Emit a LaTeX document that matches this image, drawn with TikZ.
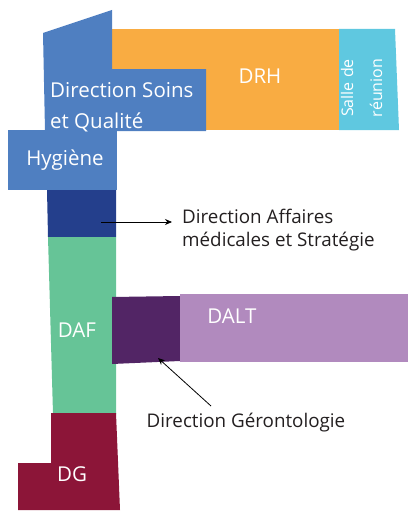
\documentclass[tikz,border=0pt]{standalone}
\usepackage{fontspec}
\setmainfont{Open Sans}
\usepackage{xcolor}
\usetikzlibrary{arrows.meta}

\definecolor{soinsblue}{HTML}{4F7FC1}
\definecolor{drhorange}{HTML}{F9AC42}
\definecolor{salleblue}{HTML}{5FC8E0}
\definecolor{affblue}{HTML}{243F8C}
\definecolor{dafgreen}{HTML}{66C497}
\definecolor{gerpurple}{HTML}{522565}
\definecolor{daltpurple}{HTML}{B18ABE}
\definecolor{dgred}{HTML}{8C1538}
\definecolor{labelgrey}{HTML}{231F20}

\tikzset{
    roomlabel/.style={text=white, font=\fontsize{20.5}{24}\selectfont, inner sep=0pt},
    smallroom/.style={roomlabel, font=\fontsize{16}{19}\selectfont, rotate=90},
    sidelabel/.style={text=labelgrey, font=\fontsize{18.8}{23}\selectfont, inner sep=0pt, align=left},
    pointer/.style={-{Stealth[length=7pt,width=6pt]}, thick, black}
}

\begin{document}
\begin{tikzpicture}[x=1pt, y=-1pt]
    \useasboundingbox (0,0) rectangle (408,511);
    % rooms
    \fill[drhorange] (112,29) rectangle (339,130);
    \fill[salleblue] (339,29) -- (395,29) -- (399,130) -- (339,130) -- cycle;
    \fill[soinsblue] (43,33) -- (112,10) -- (112,69) -- (206,69) -- (206,131) -- (45,131) -- cycle;
    \fill[soinsblue] (8,130) rectangle (117,190);
    \fill[affblue] (47,190) -- (116,190) -- (116,237) -- (48,237) -- cycle;
    \fill[dafgreen] (48,237) -- (116,237) -- (116,414) -- (53,414) -- cycle;
    \fill[gerpurple] (112,297) -- (180,296) -- (180,361) -- (112,364) -- cycle;
    \fill[daltpurple] (180,294) rectangle (408,362);
    \fill[dgred] (51,413) -- (116,413) -- (120,510) -- (18,510) -- (18,463) -- (51,463) -- cycle;

    % room names
    \node[roomlabel, anchor=west] (soins1) at (50,90) {Direction Soins};
    \node[roomlabel, anchor=west] (soins2) at (50,122) {et Qualité};
    \node[roomlabel] (drh) at (260,76) {DRH};
    \node[smallroom] (salle1) at (347,88) {Salle de};
    \node[smallroom] (salle2) at (376,88) {réunion};
    \node[roomlabel] (hyg) at (65,160) {Hygiène};
    \node[roomlabel] (daf) at (77,330) {DAF};
    \node[roomlabel] (dalt) at (232,316) {DALT};
    \node[roomlabel] (dg) at (72,474) {DG};

    % outside labels
    \node[sidelabel, anchor=west] (aff) at (182,230) {Direction Affaires\\médicales et Stratégie};
    \node[sidelabel] (ger) at (246,423) {Direction Gérontologie};

    \coordinate (affpt) at (101,222);
    \coordinate (affend) at (172,222);
    \coordinate (gerpt) at (158,358);
    \coordinate (gerfoot) at (211,406);
    \draw[pointer] (affpt) -- (affend);
    \draw[pointer] (gerfoot) -- (gerpt);
\end{tikzpicture}
\end{document}
